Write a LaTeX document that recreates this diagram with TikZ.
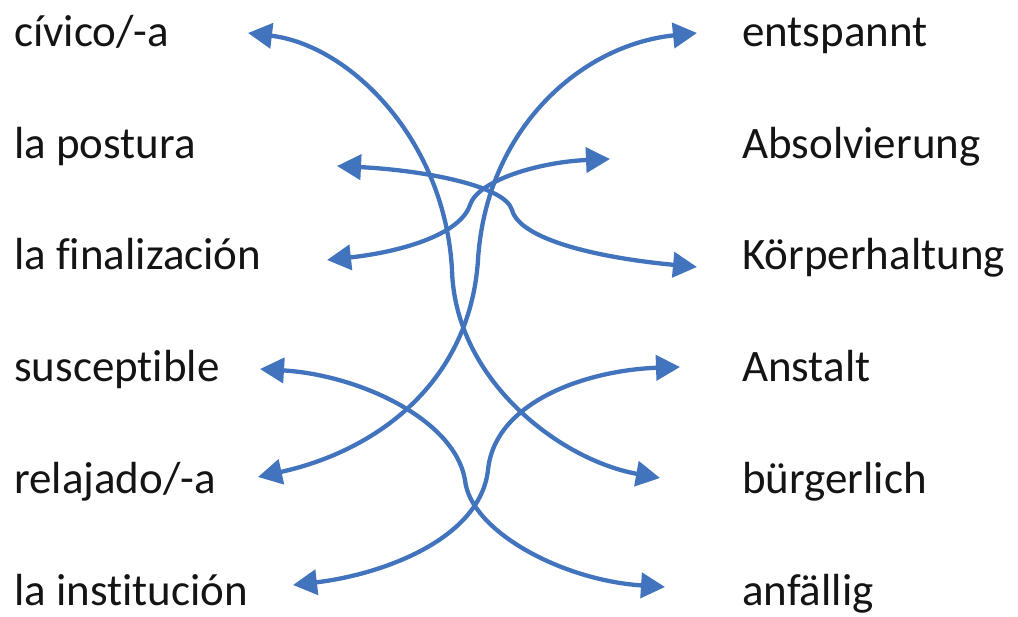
\documentclass[tikz,border=0pt]{standalone}
\usepackage{fontspec}
\setmainfont[Ligatures={NoCommon}]{Carlito}
\usetikzlibrary{arrows.meta}
\definecolor{linkblue}{RGB}{66,116,190}
\definecolor{txt}{RGB}{20,20,20}
\begin{document}
\begin{tikzpicture}[x=1pt,y=-1pt,
  word/.style={anchor=base west,inner sep=0pt,text=txt,font=\fontsize{45}{50}\selectfont},
  conn/.style={draw=linkblue,line width=4.3pt,{Triangle[length=24pt,width=25pt]}-{Triangle[length=24pt,width=25pt]}}]
\useasboundingbox (0,0) rectangle (1018,617);
% left column
\node[word] (L1) at (14,46.5) {cívico/-a};
\node[word] (L2) at (14,158.5) {la postura};
\node[word] (L3) at (14,269.5) {la finalización};
\node[word] (L4) at (14,381.5) {susceptible};
\node[word] (L5) at (14,493.5) {relajado/-a};
\node[word] (L6) at (14,605.5) {la institución};
% right column
\node[word] (R1) at (742,46.5) {entspannt};
\node[word] (R2) at (742,158.5) {Absolvierung};
\node[word] (R3) at (742,269.5) {Körperhaltung};
\node[word] (R4) at (742,381.5) {Anstalt};
\node[word] (R5) at (742,493.5) {bürgerlich};
\node[word] (R6) at (742,605.5) {anfällig};
% arrow end points
\coordinate (a1) at (248,33);   \coordinate (b5) at (660,478);
\coordinate (a2) at (337,166);  \coordinate (b3) at (697,267);
\coordinate (a3) at (327,260);  \coordinate (b2) at (610,159);
\coordinate (a5) at (258,477);  \coordinate (b1) at (697,33);
\coordinate (a4) at (260,369);  \coordinate (b6) at (665,587);
\coordinate (a6) at (293,585);  \coordinate (b4) at (680,367);
% connectors
\draw[conn] (a1) .. controls (350,45) and (445,140) .. (452,270)
                 .. controls (455,380) and (560,460) .. (b5);
\draw[conn] (a2) .. controls (420,170) and (505,185) .. (512,210)
                 .. controls (520,240) and (600,258) .. (b3);
\draw[conn] (a3) .. controls (400,252) and (460,235) .. (470,205)
                 .. controls (478,180) and (540,162) .. (b2);
\draw[conn] (a5) .. controls (380,450) and (470,380) .. (478,260)
                 .. controls (486,130) and (580,45) .. (b1);
\draw[conn] (a4) .. controls (360,375) and (455,420) .. (465,480)
                 .. controls (470,530) and (560,580) .. (b6);
\draw[conn] (a6) .. controls (380,575) and (480,540) .. (488,470)
                 .. controls (495,400) and (590,370) .. (b4);
\end{tikzpicture}
\end{document}
